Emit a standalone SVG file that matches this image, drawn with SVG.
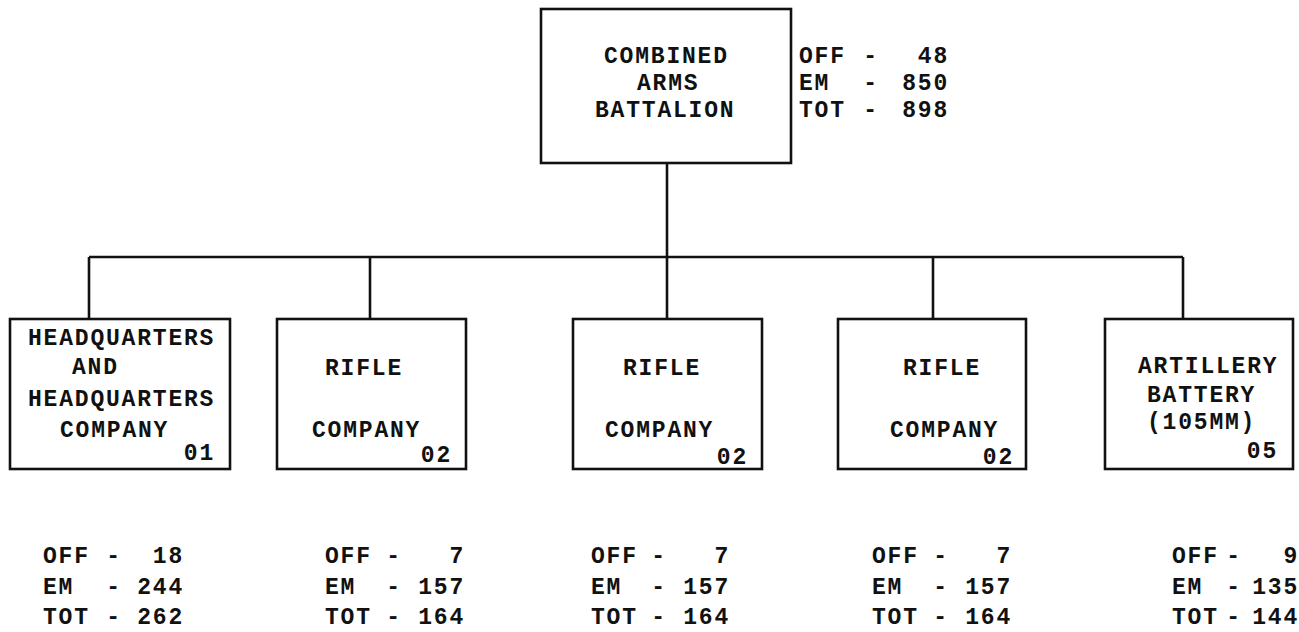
<svg xmlns="http://www.w3.org/2000/svg" width="1299" height="632" viewBox="0 0 1299 632">
<style>
.box{fill:#fff;stroke:#111;stroke-width:2.6}
.ln{fill:none;stroke:#111;stroke-width:2.6}
text{font-family:"Liberation Mono","DejaVu Sans Mono",monospace;font-size:23px;letter-spacing:1.8px;font-weight:bold;fill:#111}
.e{text-anchor:end}
.m{text-anchor:middle}
</style>
<rect width="1299" height="632" fill="#fff"/>
<g id="connectors">
<path class="ln" d="M667 163V257M89 257H1183M89 257V319M370 257V319M667 257V319M933 257V319M1183 257V319"/>
</g>
<g id="battalion">
<rect class="box" x="541" y="9" width="250" height="154"/>
<text x="604" y="63">COMBINED</text>
<text x="637" y="90">ARMS</text>
<text x="595" y="117">BATTALION</text>
<text x="799" y="63">OFF</text><text class="m" x="871" y="63">-</text><text class="e" x="949" y="63">48</text>
<text x="799" y="90">EM</text><text class="m" x="871" y="90">-</text><text class="e" x="949" y="90">850</text>
<text x="799" y="117">TOT</text><text class="m" x="871" y="117">-</text><text class="e" x="949" y="117">898</text>
</g>
<g id="hhc">
<rect class="box" x="10" y="319" width="220" height="150"/>
<text x="28" y="345">HEADQUARTERS</text>
<text x="72" y="374">AND</text>
<text x="28" y="406">HEADQUARTERS</text>
<text x="60" y="437">COMPANY</text>
<text class="e" x="215" y="460">01</text>
<text x="43" y="563">OFF</text><text class="m" x="114" y="563">-</text><text class="e" x="184" y="563">18</text>
<text x="43" y="594">EM</text><text class="m" x="114" y="594">-</text><text class="e" x="184" y="594">244</text>
<text x="43" y="624">TOT</text><text class="m" x="114" y="624">-</text><text class="e" x="184" y="624">262</text>
</g>
<g id="rifle1">
<rect class="box" x="277" y="319" width="189" height="150"/>
<text x="325" y="375">RIFLE</text>
<text x="312" y="437">COMPANY</text>
<text class="e" x="452" y="462">02</text>
<text x="325" y="563">OFF</text><text class="m" x="394" y="563">-</text><text class="e" x="465" y="563">7</text>
<text x="325" y="594">EM</text><text class="m" x="394" y="594">-</text><text class="e" x="465" y="594">157</text>
<text x="325" y="624">TOT</text><text class="m" x="394" y="624">-</text><text class="e" x="465" y="624">164</text>
</g>
<g id="rifle2">
<rect class="box" x="573" y="319" width="189" height="150"/>
<text x="623" y="375">RIFLE</text>
<text x="605" y="437">COMPANY</text>
<text class="e" x="748" y="464">02</text>
<text x="591" y="563">OFF</text><text class="m" x="659" y="563">-</text><text class="e" x="730" y="563">7</text>
<text x="591" y="594">EM</text><text class="m" x="659" y="594">-</text><text class="e" x="730" y="594">157</text>
<text x="591" y="624">TOT</text><text class="m" x="659" y="624">-</text><text class="e" x="730" y="624">164</text>
</g>
<g id="rifle3">
<rect class="box" x="838" y="319" width="188" height="150"/>
<text x="903" y="375">RIFLE</text>
<text x="890" y="437">COMPANY</text>
<text class="e" x="1014" y="464">02</text>
<text x="872" y="563">OFF</text><text class="m" x="941" y="563">-</text><text class="e" x="1012" y="563">7</text>
<text x="872" y="594">EM</text><text class="m" x="941" y="594">-</text><text class="e" x="1012" y="594">157</text>
<text x="872" y="624">TOT</text><text class="m" x="941" y="624">-</text><text class="e" x="1012" y="624">164</text>
</g>
<g id="artillery">
<rect class="box" x="1105" y="319" width="188" height="150"/>
<text x="1138" y="373">ARTILLERY</text>
<text x="1147" y="402">BATTERY</text>
<text x="1147" y="429">(105MM)</text>
<text class="e" x="1278" y="458">05</text>
<text x="1172" y="563">OFF</text><text class="m" x="1234" y="563">-</text><text class="e" x="1299" y="563">9</text>
<text x="1172" y="594">EM</text><text class="m" x="1234" y="594">-</text><text class="e" x="1299" y="594">135</text>
<text x="1172" y="624">TOT</text><text class="m" x="1234" y="624">-</text><text class="e" x="1299" y="624">144</text>
</g>
</svg>
